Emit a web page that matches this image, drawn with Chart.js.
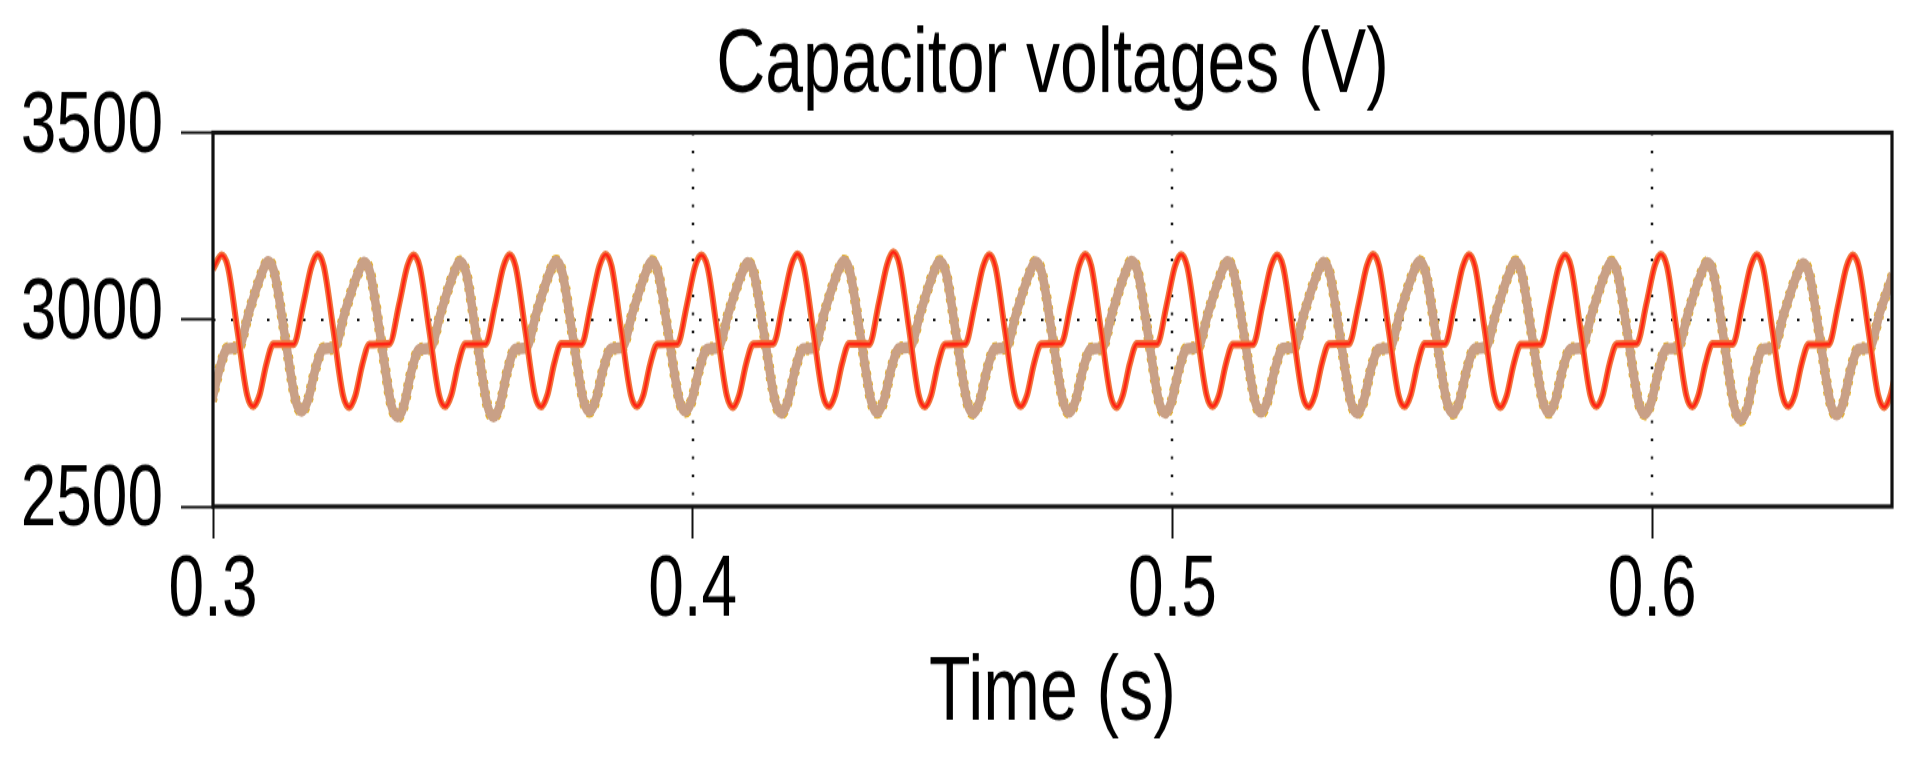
<!DOCTYPE html>
<html>
<head>
<meta charset="utf-8">
<title>Capacitor voltages</title>
<script src="https://cdn.jsdelivr.net/npm/chart.js@4.4.1/dist/chart.umd.min.js"></script>
<style>
  html, body { margin: 0; padding: 0; background: #fff; }
  #page { width: 1924px; height: 757px; }
  /* the original plot is a tall, narrow rendering: stretch the canvas vertically */
  #wrap { width: 1924px; height: 568px; transform: scaleY(1.33275); transform-origin: 0 0; }
  canvas { display: block; }
</style>
</head>
<body>
<div id="page"><div id="wrap"><canvas id="capChart" width="1924" height="568"></canvas></div></div>
<script>
// axis ticks and dotted grid positions
const xTicks = [0.3, 0.4, 0.5, 0.6];
const yTicks = [2500, 3000, 3500];
const gridX = [0.4, 0.5, 0.6];
const gridY = [3000];

// red group of capacitor voltages (s, V), one line per 20 ms cycle
const redTime = [
  0.3000,
  0.3018, 0.3031, 0.3051, 0.3071, 0.3084, 0.3097, 0.3111, 0.3126, 0.3168, 0.3188, 0.3205,
  0.3218, 0.3231, 0.3251, 0.3271, 0.3284, 0.3297, 0.3311, 0.3326, 0.3368, 0.3388, 0.3405,
  0.3418, 0.3431, 0.3451, 0.3471, 0.3484, 0.3497, 0.3511, 0.3526, 0.3568, 0.3588, 0.3605,
  0.3618, 0.3631, 0.3651, 0.3671, 0.3684, 0.3697, 0.3711, 0.3726, 0.3768, 0.3788, 0.3805,
  0.3818, 0.3831, 0.3851, 0.3871, 0.3884, 0.3897, 0.3911, 0.3926, 0.3968, 0.3988, 0.4005,
  0.4018, 0.4031, 0.4051, 0.4071, 0.4084, 0.4097, 0.4111, 0.4126, 0.4168, 0.4188, 0.4205,
  0.4218, 0.4231, 0.4251, 0.4271, 0.4284, 0.4297, 0.4311, 0.4326, 0.4368, 0.4388, 0.4405,
  0.4418, 0.4431, 0.4451, 0.4471, 0.4484, 0.4497, 0.4511, 0.4526, 0.4568, 0.4588, 0.4605,
  0.4618, 0.4631, 0.4651, 0.4671, 0.4684, 0.4697, 0.4711, 0.4726, 0.4768, 0.4788, 0.4805,
  0.4818, 0.4831, 0.4851, 0.4871, 0.4884, 0.4897, 0.4911, 0.4926, 0.4968, 0.4988, 0.5005,
  0.5018, 0.5031, 0.5051, 0.5071, 0.5084, 0.5097, 0.5111, 0.5126, 0.5168, 0.5188, 0.5205,
  0.5218, 0.5231, 0.5251, 0.5271, 0.5284, 0.5297, 0.5311, 0.5326, 0.5368, 0.5388, 0.5405,
  0.5418, 0.5431, 0.5451, 0.5471, 0.5484, 0.5497, 0.5511, 0.5526, 0.5568, 0.5588, 0.5605,
  0.5618, 0.5631, 0.5651, 0.5671, 0.5684, 0.5697, 0.5711, 0.5726, 0.5768, 0.5788, 0.5805,
  0.5818, 0.5831, 0.5851, 0.5871, 0.5884, 0.5897, 0.5911, 0.5926, 0.5968, 0.5988, 0.6005,
  0.6018, 0.6031, 0.6051, 0.6071, 0.6084, 0.6097, 0.6111, 0.6126, 0.6168, 0.6188, 0.6205,
  0.6218, 0.6231, 0.6251, 0.6271, 0.6284, 0.6297, 0.6311, 0.6326, 0.6368, 0.6388, 0.6405,
  0.6418, 0.6431, 0.6451, 0.6471, 0.6484, 0.6497, 0.6511
];
const redVolt = [
  3135,
  3172, 3141, 2970, 2799, 2768, 2798, 2880, 2934, 2934, 3040, 3141,
  3174, 3142, 2972, 2797, 2766, 2797, 2879, 2933, 2936, 3041, 3142,
  3172, 3140, 2970, 2799, 2768, 2799, 2880, 2934, 2935, 3039, 3140,
  3173, 3141, 2971, 2798, 2767, 2798, 2881, 2935, 2934, 3041, 3141,
  3174, 3142, 2970, 2799, 2768, 2797, 2879, 2933, 2935, 3040, 3142,
  3172, 3140, 2969, 2797, 2766, 2798, 2880, 2934, 2936, 3042, 3143,
  3175, 3143, 2972, 2799, 2768, 2799, 2881, 2935, 2934, 3044, 3146,
  3180, 3147, 2975, 2798, 2767, 2797, 2879, 2933, 2935, 3040, 3141,
  3173, 3141, 2970, 2799, 2768, 2798, 2880, 2934, 2936, 3041, 3142,
  3174, 3142, 2971, 2797, 2766, 2799, 2881, 2935, 2935, 3040, 3141,
  3173, 3141, 2970, 2799, 2768, 2797, 2879, 2933, 2934, 3041, 3141,
  3172, 3140, 2971, 2798, 2767, 2798, 2880, 2934, 2936, 3040, 3142,
  3174, 3142, 2970, 2799, 2768, 2799, 2881, 2935, 2935, 3041, 3141,
  3173, 3141, 2972, 2797, 2766, 2797, 2879, 2933, 2934, 3040, 3140,
  3172, 3140, 2970, 2799, 2768, 2798, 2880, 2934, 2936, 3042, 3142,
  3174, 3142, 2971, 2798, 2767, 2799, 2881, 2935, 2935, 3041, 3141,
  3173, 3141, 2970, 2799, 2768, 2797, 2879, 2933, 2934, 3040, 3140,
  3172, 3140, 2970, 2798, 2766, 2798, 2880
];

// tan group of capacitor voltages (s, V), one line per 20 ms cycle
const tanTime = [
  0.2998, 0.3014, 0.3030, 0.3053, 0.3075, 0.3102,
  0.3115, 0.3128, 0.3150, 0.3172, 0.3185, 0.3198, 0.3214, 0.3230, 0.3253, 0.3275, 0.3302,
  0.3315, 0.3328, 0.3350, 0.3372, 0.3385, 0.3398, 0.3414, 0.3430, 0.3453, 0.3475, 0.3502,
  0.3515, 0.3528, 0.3550, 0.3572, 0.3585, 0.3598, 0.3614, 0.3630, 0.3653, 0.3675, 0.3702,
  0.3715, 0.3728, 0.3750, 0.3772, 0.3785, 0.3798, 0.3814, 0.3830, 0.3853, 0.3875, 0.3902,
  0.3915, 0.3928, 0.3950, 0.3972, 0.3985, 0.3998, 0.4014, 0.4030, 0.4053, 0.4075, 0.4102,
  0.4115, 0.4128, 0.4150, 0.4172, 0.4185, 0.4198, 0.4214, 0.4230, 0.4253, 0.4275, 0.4302,
  0.4315, 0.4328, 0.4350, 0.4372, 0.4385, 0.4398, 0.4414, 0.4430, 0.4453, 0.4475, 0.4502,
  0.4515, 0.4528, 0.4550, 0.4572, 0.4585, 0.4598, 0.4614, 0.4630, 0.4653, 0.4675, 0.4702,
  0.4715, 0.4728, 0.4750, 0.4772, 0.4785, 0.4798, 0.4814, 0.4830, 0.4853, 0.4875, 0.4902,
  0.4915, 0.4928, 0.4950, 0.4972, 0.4985, 0.4998, 0.5014, 0.5030, 0.5053, 0.5075, 0.5102,
  0.5115, 0.5128, 0.5150, 0.5172, 0.5185, 0.5198, 0.5214, 0.5230, 0.5253, 0.5275, 0.5302,
  0.5315, 0.5328, 0.5350, 0.5372, 0.5385, 0.5398, 0.5414, 0.5430, 0.5453, 0.5475, 0.5502,
  0.5515, 0.5528, 0.5550, 0.5572, 0.5585, 0.5598, 0.5614, 0.5630, 0.5653, 0.5675, 0.5702,
  0.5715, 0.5728, 0.5750, 0.5772, 0.5785, 0.5798, 0.5814, 0.5830, 0.5853, 0.5875, 0.5902,
  0.5915, 0.5928, 0.5950, 0.5972, 0.5985, 0.5998, 0.6014, 0.6030, 0.6053, 0.6075, 0.6102,
  0.6115, 0.6128, 0.6150, 0.6172, 0.6185, 0.6198, 0.6214, 0.6230, 0.6253, 0.6275, 0.6302,
  0.6315, 0.6328, 0.6350, 0.6372, 0.6385, 0.6398, 0.6414, 0.6430, 0.6453, 0.6475, 0.6502
];
const tanVolt = [
  2783, 2870, 2922, 2925, 3020, 3125,
  3155, 3125, 2955, 2785, 2755, 2785, 2870, 2922, 2925, 3020, 3123,
  3153, 3123, 2947, 2770, 2740, 2770, 2864, 2920, 2924, 3019, 3124,
  3154, 3124, 2947, 2770, 2740, 2770, 2864, 2921, 2925, 3021, 3126,
  3156, 3126, 2955, 2785, 2755, 2785, 2870, 2922, 2926, 3020, 3125,
  3155, 3125, 2955, 2785, 2755, 2784, 2869, 2921, 2925, 3019, 3122,
  3152, 3122, 2951, 2780, 2750, 2780, 2868, 2922, 2924, 3021, 3126,
  3156, 3126, 2954, 2782, 2752, 2782, 2869, 2923, 2926, 3020, 3125,
  3155, 3125, 2952, 2780, 2750, 2780, 2868, 2922, 2925, 3019, 3124,
  3154, 3124, 2953, 2782, 2752, 2782, 2869, 2921, 2924, 3021, 3126,
  3156, 3126, 2953, 2780, 2750, 2780, 2868, 2922, 2926, 3020, 3125,
  3155, 3125, 2953, 2782, 2752, 2782, 2869, 2923, 2925, 3019, 3123,
  3153, 3123, 2951, 2780, 2750, 2780, 2868, 2921, 2924, 3020, 3125,
  3155, 3125, 2952, 2780, 2750, 2780, 2868, 2922, 2926, 3020, 3124,
  3154, 3124, 2953, 2782, 2752, 2782, 2869, 2921, 2925, 3019, 3123,
  3153, 3123, 2950, 2778, 2748, 2778, 2867, 2922, 2924, 3018, 3122,
  3152, 3122, 2942, 2762, 2732, 2762, 2860, 2920, 2925, 3017, 3120,
  3150, 3120, 2948, 2775, 2745, 2775, 2866, 2921, 2924, 3020, 3121
];

const toPoints = (ts, vs) => ts.map((t, i) => ({ x: t, y: vs[i] }));
const redPts = toPoints(redTime, redVolt);
const tanPts = toPoints(tanTime, tanVolt);

const FONT = '"Liberation Sans", Arial, sans-serif';
Chart.defaults.font.family = FONT;
Chart.defaults.color = '#000';

// dotted grid under the traces, heavy frame over them
const plotFrame = {
  id: 'plotFrame',
  beforeDatasetsDraw(chart) {
    const { ctx, chartArea: a, scales: { x, y } } = chart;
    ctx.save();
    ctx.strokeStyle = '#1a1a1a';
    ctx.lineWidth = 2.5;
    ctx.setLineDash([2, 11.5]);
    gridX.forEach(v => {
      const px = Math.round(x.getPixelForValue(v));
      ctx.beginPath(); ctx.moveTo(px, a.top); ctx.lineTo(px, a.bottom); ctx.stroke();
    });
    ctx.setLineDash([2.5, 15.5]);
    ctx.lineWidth = 2;
    gridY.forEach(v => {
      const py = Math.round(y.getPixelForValue(v));
      ctx.beginPath(); ctx.moveTo(a.left, py); ctx.lineTo(a.right, py); ctx.stroke();
    });
    ctx.restore();
  },
  afterDatasetsDraw(chart) {
    const { ctx, chartArea: a } = chart;
    ctx.save();
    ctx.strokeStyle = '#111';
    ctx.lineWidth = 3.2;
    ctx.strokeRect(a.left, a.top, a.right - a.left, a.bottom - a.top);
    ctx.restore();
  }
};

const trace = (data, color, width, dash) => ({
  data,
  borderColor: color,
  borderWidth: width,
  borderDash: dash || [],
  pointRadius: 0,
  fill: false,
  cubicInterpolationMode: 'monotone'
});

new Chart(document.getElementById('capChart'), {
  type: 'line',
  data: {
    datasets: [
      trace(redPts, '#ff2414', 2.6),
      trace(redPts, '#f0743c', 6),
      trace(tanPts, '#c9a086', 8.5),
      trace(tanPts, '#e6b020', 10, [3, 5])
    ]
  },
  options: {
    responsive: false,
    devicePixelRatio: 1,
    animation: false,
    layout: { padding: { left: 0, right: 32, top: 0, bottom: 0 } },
    plugins: {
      legend: { display: false },
      tooltip: { enabled: false },
      title: {
        display: true,
        fullSize: false,
        text: 'Capacitor voltages (V)',
        color: '#000',
        font: { size: 68, weight: 'normal', family: FONT },
        padding: { top: 9.7, bottom: 8.2 }
      }
    },
    scales: {
      x: {
        type: 'linear',
        min: 0.3,
        max: 0.65,
        afterBuildTicks: s => { s.ticks = xTicks.map(v => ({ value: v })); },
        afterFit: s => { s.height = 188; },
        border: { display: false },
        grid: { drawOnChartArea: false, drawTicks: true, tickLength: 24, tickWidth: 2, tickColor: '#111' },
        ticks: {
          padding: 2,
          color: '#000',
          font: { size: 64 },
          callback: v => v.toFixed(1)
        },
        title: {
          display: true,
          text: 'Time (s)',
          color: '#000',
          font: { size: 68 },
          padding: { top: 0, bottom: 6 }
        }
      },
      y: {
        min: 2500,
        max: 3500,
        afterBuildTicks: s => { s.ticks = yTicks.map(v => ({ value: v })); },
        afterFit: s => { s.width = 213; },
        border: { display: false },
        grid: { drawOnChartArea: false, drawTicks: true, tickLength: 32, tickWidth: 2, tickColor: '#111' },
        ticks: {
          padding: 18,
          labelOffset: -3.5,
          color: '#000',
          font: { size: 64 },
          callback: v => String(v)
        }
      }
    }
  },
  plugins: [plotFrame]
});
</script>
</body>
</html>
